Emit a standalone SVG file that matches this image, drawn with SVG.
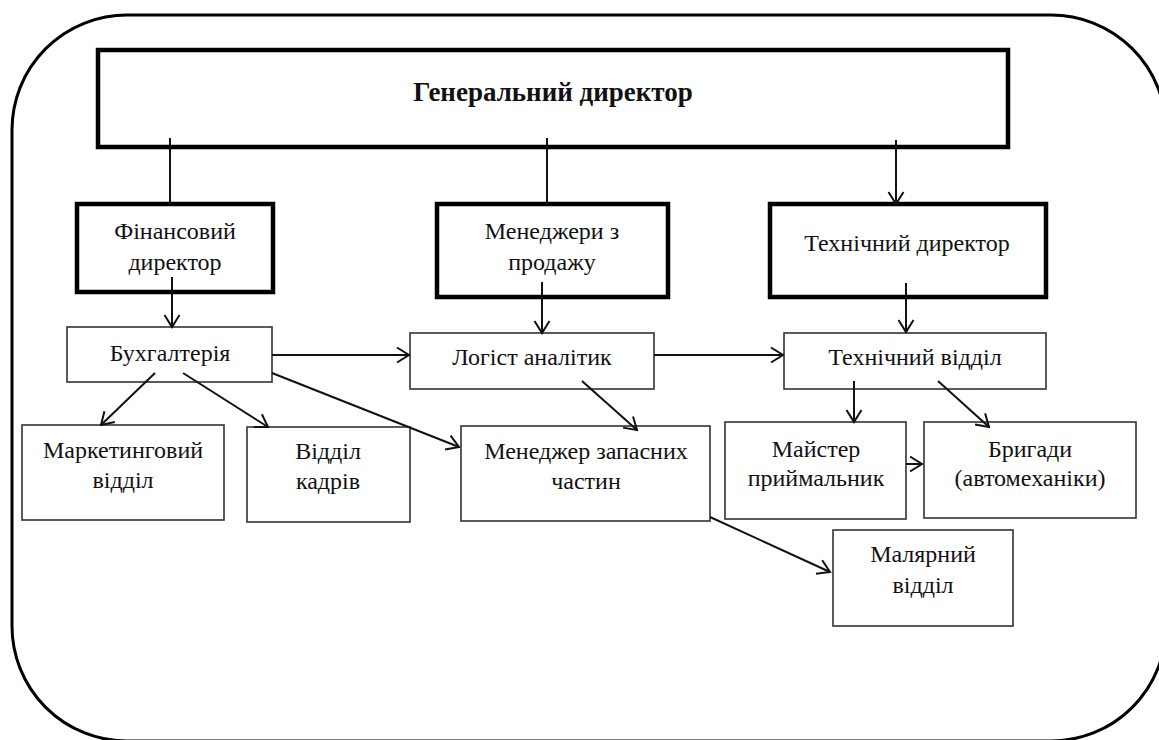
<svg xmlns="http://www.w3.org/2000/svg" width="1159" height="740" viewBox="0 0 1159 740">
<defs>
<marker id="arr" markerUnits="userSpaceOnUse" markerWidth="16" markerHeight="18" viewBox="0 0 16 18" refX="13" refY="9" orient="auto">
<path d="M1,1.5 L13,9 L1,16.5" fill="none" stroke="#111" stroke-width="2"/>
</marker>
</defs>
<style>
.thick{fill:#fff;stroke:#000;stroke-width:4.5}
.thin{fill:#fff;stroke:#333;stroke-width:1.6}
.t{font-family:"Liberation Serif","Times New Roman",serif;font-size:24px;fill:#111;text-anchor:middle}
.b{font-weight:bold;font-size:27px}
.c{stroke:#111;stroke-width:2;fill:none}
.ca{stroke:#111;stroke-width:2;fill:none;marker-end:url(#arr)}
</style>
<rect x="12" y="15" width="1154" height="726" rx="115" ry="115" fill="#fff" stroke="#000" stroke-width="3"/>
<g id="gen-director">
<rect class="thick" x="98" y="50" width="910" height="97" style="fill:none"/>
<text class="t b" x="553" y="101">Генеральний директор</text>
</g>
<g id="fin-director">
<rect class="thick" x="77" y="204" width="196" height="88"/>
<text class="t" x="175" y="239">Фінансовий</text>
<text class="t" x="175" y="270">директор</text>
</g>
<g id="sales-managers">
<rect class="thick" x="437" y="204" width="231" height="93"/>
<text class="t" x="552" y="239">Менеджери з</text>
<text class="t" x="552" y="270">продажу</text>
</g>
<g id="tech-director">
<rect class="thick" x="770" y="204" width="276" height="93"/>
<text class="t" x="907" y="251">Технічний директор</text>
</g>
<g id="accounting">
<rect class="thin" x="67" y="327" width="205" height="55"/>
<text class="t" x="170" y="361">Бухгалтерія</text>
</g>
<g id="logist">
<rect class="thin" x="410" y="333" width="244" height="56"/>
<text class="t" x="532" y="365">Логіст аналітик</text>
</g>
<g id="tech-dept">
<rect class="thin" x="784" y="333" width="262" height="56"/>
<text class="t" x="915" y="365">Технічний відділ</text>
</g>
<g id="marketing">
<rect class="thin" x="22" y="425" width="202" height="95"/>
<text class="t" x="123" y="458">Маркетинговий</text>
<text class="t" x="123" y="488">відділ</text>
</g>
<g id="hr">
<rect class="thin" x="247" y="427" width="163" height="95"/>
<text class="t" x="328" y="459">Відділ</text>
<text class="t" x="328" y="489">кадрів</text>
</g>
<g id="parts-manager">
<rect class="thin" x="461" y="426" width="249" height="95"/>
<text class="t" x="586" y="459">Менеджер запасних</text>
<text class="t" x="586" y="489">частин</text>
</g>
<g id="master">
<rect class="thin" x="725" y="422" width="181" height="97"/>
<text class="t" x="816" y="457">Майстер</text>
<text class="t" x="816" y="486">приймальник</text>
</g>
<g id="brigades">
<rect class="thin" x="924" y="422" width="212" height="96"/>
<text class="t" x="1030" y="457">Бригади</text>
<text class="t" x="1030" y="486">(автомеханіки)</text>
</g>
<g id="paint-dept">
<rect class="thin" x="833" y="530" width="180" height="96"/>
<text class="t" x="923" y="562">Малярний</text>
<text class="t" x="923" y="593">відділ</text>
</g>
<g id="connectors">
<line class="c" x1="170" y1="138" x2="170" y2="204"/>
<line class="c" x1="547" y1="138" x2="547" y2="204"/>
<line class="ca" x1="896" y1="140" x2="896" y2="204"/>
<line class="ca" x1="172" y1="277" x2="172" y2="327"/>
<line class="ca" x1="272" y1="355" x2="409" y2="355"/>
<line class="ca" x1="155" y1="373" x2="101" y2="425"/>
<line class="ca" x1="183" y1="373" x2="268" y2="427"/>
<line class="ca" x1="272" y1="373" x2="459" y2="447"/>
<line class="ca" x1="542" y1="282" x2="542" y2="333"/>
<line class="ca" x1="654" y1="355" x2="783" y2="355"/>
<line class="ca" x1="582" y1="381" x2="637" y2="430"/>
<line class="ca" x1="906" y1="283" x2="906" y2="332"/>
<line class="ca" x1="854" y1="381" x2="854" y2="422"/>
<line class="ca" x1="938" y1="381" x2="989" y2="427"/>
<line class="ca" x1="906" y1="464" x2="922" y2="464"/>
<line class="ca" x1="710" y1="517" x2="830" y2="572"/>
</g>
</svg>
